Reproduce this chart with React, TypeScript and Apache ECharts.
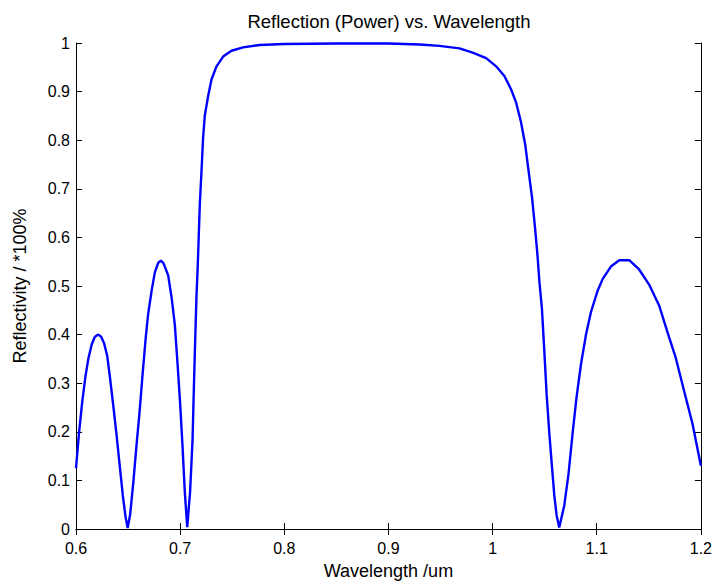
import React, { useEffect, useRef } from "react";
import * as echarts from "echarts";

const wavelength: number[] = [
  0.6, 0.603, 0.606, 0.609, 0.612, 0.615, 0.618, 0.621, 0.624, 0.627, 0.63, 0.633, 0.636, 0.639, 0.642, 0.645,
  0.6475, 0.6496, 0.652, 0.655, 0.658, 0.661, 0.664, 0.667, 0.6693, 0.6726, 0.6757, 0.679, 0.6815, 0.684,
  0.6885, 0.6918, 0.6949, 0.6975, 0.7, 0.7023, 0.7045, 0.7068, 0.7095, 0.7119, 0.7131, 0.7144, 0.7157,
  0.7167, 0.7173, 0.7189, 0.7205, 0.722, 0.7237, 0.7269, 0.7301, 0.7349, 0.7413, 0.7493, 0.7604, 0.7764,
  0.8, 0.85, 0.9, 0.93, 0.949, 0.9682, 0.9809, 0.9938, 1.0034, 1.0113, 1.0177, 1.0225, 1.0273, 1.0314,
  1.0346, 1.0379, 1.0407, 1.0432, 1.0449, 1.0474, 1.0497, 1.0519, 1.0545, 1.057, 1.0593, 1.0615, 1.064,
  1.0688, 1.073, 1.0768, 1.0806, 1.0848, 1.0896, 1.0944, 1.1008, 1.1056, 1.1136, 1.1216, 1.1312, 1.1407,
  1.1503, 1.1599, 1.1679, 1.1759, 1.1839, 1.1919, 1.2,
];

const reflectivity: number[] = [
  0.125, 0.2, 0.262, 0.313, 0.352, 0.379, 0.395, 0.4, 0.396, 0.382, 0.356, 0.305, 0.25, 0.192, 0.13, 0.068,
  0.026, 0.002, 0.03, 0.095, 0.17, 0.24, 0.32, 0.395, 0.443, 0.49, 0.528, 0.548, 0.552, 0.547,
  0.522, 0.476, 0.42, 0.34, 0.258, 0.17, 0.075, 0.004, 0.075, 0.183, 0.284, 0.385, 0.48,
  0.53, 0.567, 0.669, 0.736, 0.804, 0.851, 0.891, 0.925, 0.952, 0.972, 0.984, 0.991, 0.996,
  0.998, 0.999, 0.999, 0.997, 0.994, 0.989, 0.98, 0.969, 0.952, 0.932, 0.905, 0.878, 0.837, 0.79,
  0.736, 0.682, 0.621, 0.561, 0.51, 0.453, 0.365, 0.277, 0.196, 0.129, 0.068, 0.028, 0.003,
  0.048, 0.115, 0.196, 0.271, 0.338, 0.399, 0.446, 0.49, 0.514, 0.54, 0.553, 0.553, 0.534,
  0.503, 0.46, 0.405, 0.352, 0.284, 0.217, 0.13,
];

const chartTitle = "Reflection (Power) vs. Wavelength";
const xLabel = "Wavelength /um";
const yLabel = "Reflectivity / *100%";

const FONT = "Liberation Sans, Arial, sans-serif";

export default function App() {
  const ref = useRef<HTMLDivElement>(null);
  useEffect(() => {
    if (!ref.current) return;
    const chart = echarts.init(ref.current, null, { renderer: "svg" });
    const data = wavelength.map((w, i) => [w, reflectivity[i]]);
    const axisLine = { show: true, lineStyle: { color: "#000", width: 1 } };
    const tick = { show: true, inside: true, length: 6, lineStyle: { color: "#000", width: 1 } };
    const label = { color: "#000", fontSize: 16, fontFamily: FONT };
    chart.setOption({
      animation: false,
      backgroundColor: "#fff",
      grid: { left: 76, right: 13, top: 43, bottom: 48, containLabel: false },
      graphic: [
        {
          type: "text",
          x: 389,
          y: 21,
          style: {
            text: chartTitle,
            fill: "#000",
            font: `18.5px ${FONT}`,
            fontSize: 18.5,
            fontFamily: FONT,
            align: "center",
            verticalAlign: "middle",
            textAlign: "center",
            textVerticalAlign: "middle",
          },
        },
      ],
      xAxis: [
        {
          type: "value",
          min: 0.6,
          max: 1.2,
          interval: 0.1,
          position: "bottom",
          axisLine,
          axisTick: tick,
          splitLine: { show: false },
          axisLabel: { ...label, margin: 11 },
          name: xLabel,
          nameLocation: "middle",
          nameGap: 33,
          nameTextStyle: { color: "#000", fontSize: 18, fontFamily: FONT },
        },
        {
          type: "value",
          min: 0.6,
          max: 1.2,
          interval: 0.1,
          position: "top",
          axisLine,
          axisTick: tick,
          splitLine: { show: false },
          axisLabel: { show: false },
        },
      ],
      yAxis: [
        {
          type: "value",
          min: 0,
          max: 1,
          interval: 0.1,
          position: "left",
          axisLine,
          axisTick: tick,
          splitLine: { show: false },
          axisLabel: { ...label, margin: 6 },
          name: yLabel,
          nameLocation: "middle",
          nameGap: 47,
          nameTextStyle: { color: "#000", fontSize: 18, fontFamily: FONT },
        },
        {
          type: "value",
          min: 0,
          max: 1,
          interval: 0.1,
          position: "right",
          axisLine,
          axisTick: tick,
          splitLine: { show: false },
          axisLabel: { show: false },
        },
      ],
      series: [
        {
          type: "line",
          data,
          xAxisIndex: 0,
          yAxisIndex: 0,
          showSymbol: false,
          smooth: false,
          lineStyle: { color: "#0000ff", width: 2.4 },
          itemStyle: { color: "#0000ff" },
        },
      ],
    });
    return () => chart.dispose();
  }, []);
  return (
    <div
      ref={ref}
      style={{ position: "fixed", left: 0, top: 0, width: 715, height: 585, background: "#fff" }}
    />
  );
}
